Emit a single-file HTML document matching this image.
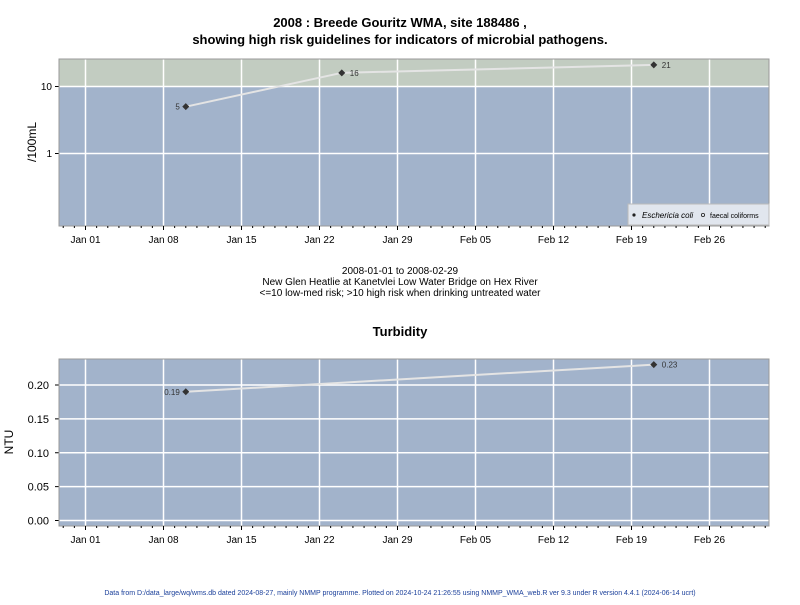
<!DOCTYPE html>
<html><head><meta charset="utf-8"><style>
body{margin:0;background:#fff;font-family:"Liberation Sans",sans-serif}
svg text{font-family:"Liberation Sans",sans-serif}
</style></head><body>
<svg id="s" width="800" height="600" xmlns="http://www.w3.org/2000/svg">
<text x="400" y="27" text-anchor="middle" font-size="13" font-weight="bold">2008 : Breede Gouritz WMA, site 188486 ,</text>
<text x="400" y="44" text-anchor="middle" font-size="13" font-weight="bold">showing high risk guidelines for indicators of microbial pathogens.</text>
<text x="400" y="274" text-anchor="middle" font-size="10">2008-01-01 to 2008-02-29</text>
<text x="400" y="285" text-anchor="middle" font-size="10">New Glen Heatlie at Kanetvlei Low Water Bridge on Hex River</text>
<text x="400" y="296" text-anchor="middle" font-size="10">&lt;=10 low-med risk; &gt;10 high risk when drinking untreated water</text>
<text x="400" y="336" text-anchor="middle" font-size="13" font-weight="bold">Turbidity</text>
<text x="36" y="142" text-anchor="middle" font-size="12" transform="rotate(-90 36 142)">/100mL</text>
<text x="13" y="442" text-anchor="middle" font-size="12" transform="rotate(-90 13 442)">NTU</text>
<text x="400" y="595" text-anchor="middle" font-size="7" fill="#1a3f9a">Data from D:/data_large/wq/wms.db dated 2024-08-27, mainly NMMP programme. Plotted on 2024-10-24 21:26:55 using NMMP_WMA_web.R ver 9.3 under R version 4.4.1 (2024-06-14 ucrt)</text>
<g id="g1"></g><g id="g2"></g>
</svg>
<script>
const tickLabels=["Jan 01","Jan 08","Jan 15","Jan 22","Jan 29","Feb 05","Feb 12","Feb 19","Feb 26"];
const tickDays=[0,7,14,21,28,35,42,49,56];
const ecoliDays=[9,23,51];
const ecoliValues=[5,16,21];
const ecoliLabels=["5","16","21"];
const ntuDays=[9,51];
const ntuValues=[0.19,0.23];
const ntuLabels=["0.19","0.23"];
const logTicks=[1,10];
const ntuTicks=[0,0.05,0.1,0.15,0.2];
const ntuTickLabels=["0.00","0.05","0.10","0.15","0.20"];
const guideline=10;

const NS="http://www.w3.org/2000/svg";
function mk(p,t,a){const e=document.createElementNS(NS,t);for(const k in a)e.setAttribute(k,a[k]);p.appendChild(e);return e;}
const X0=59,X1=769;
const xs=d=>85.5+d*(78/7);
function ys1(v){return 86.5-(Math.log10(v)-1)*67;}
function ys2(v){return 520.5-v*(135.5/0.2);}

function xAxis(g,yb){
  for(let d=-2;d<=61;d++){const x=xs(d);if(x<X0||x>X1)continue;
    const major=tickDays.includes(d);
    const l=mk(g,'line',{x1:x,x2:x,y1:yb,y2:yb+(major?4:2),stroke:'#000','stroke-width':1});
    
    }
  tickDays.forEach((d,i)=>{const t=mk(g,'text',{x:xs(d),y:yb+17,'text-anchor':'middle','font-size':10});t.textContent=tickLabels[i];
    
    });
}
function panel(g,yt,yb){
  const r=mk(g,'rect',{x:X0,y:yt,width:X1-X0,height:yb-yt,fill:'#a2b3cb'});
  
  
}
function vgrid(g,yt,yb){tickDays.forEach(d=>{const l=mk(g,'line',{x1:xs(d),x2:xs(d),y1:yt,y2:yb,stroke:'#fff','stroke-width':1.5});
  
  });}
function pts(g,days,vals,labs,ys,side){
  const p=mk(g,'polyline',{points:days.map((d,i)=>xs(d)+','+ys(vals[i])).join(' '),fill:'none',stroke:'#e4e4e4','stroke-width':2});
  
  
  days.forEach((d,i)=>{const x=xs(d),y=ys(vals[i]);
    const c=mk(g,'path',{d:`M${x-3.5},${y} L${x},${y-3.5} L${x+3.5},${y} L${x},${y+3.5}Z`,fill:'#333'});
    
    
    const left=i===0;
    const t=mk(g,'text',{x:left?x-6:x+8,y:y+3,'text-anchor':left?'end':'start','font-size':8,fill:'#333'});t.textContent=labs[i];
    
    });
}
// panel 1
const g1=document.getElementById('g1');
panel(g1,59,226);
const hr=mk(g1,'rect',{x:X0,y:59,width:X1-X0,height:ys1(guideline)-59,fill:'#c2ccc1'});


vgrid(g1,59,226);
logTicks.forEach(v=>{const y=ys1(v);
  const l=mk(g1,'line',{x1:X0,x2:X1,y1:y,y2:y,stroke:'#fff','stroke-width':1.5});
  
  
  const tk=mk(g1,'line',{x1:X0-4,x2:X0,y1:y,y2:y,stroke:'#000'});
  
  
  const t=mk(g1,'text',{x:X0-7,y:y+3.5,'text-anchor':'end','font-size':10});t.textContent=String(v);
  
  });
pts(g1,ecoliDays,ecoliValues,ecoliLabels,ys1);
const fr1=mk(g1,'rect',{x:X0,y:59,width:X1-X0,height:167,fill:'none',stroke:'#999'});


const lg=mk(g1,'g',{});


mk(lg,'rect',{x:628,y:204,width:141,height:21,fill:'#e1e6ee',stroke:'#bbb'});
mk(lg,'circle',{cx:634,cy:215,r:1.6,fill:'#222'});
const le1=mk(lg,'text',{x:642,y:218,'font-size':8,'font-style':'italic'});le1.textContent='Eschericia coli';


mk(lg,'circle',{cx:703,cy:215,r:1.6,fill:'none',stroke:'#222','stroke-width':0.8});
const le2=mk(lg,'text',{x:710,y:218,'font-size':7});le2.textContent='faecal coliforms';


xAxis(g1,226);
// panel 2
const g2=document.getElementById('g2');
panel(g2,359,526);
vgrid(g2,359,526);
ntuTicks.forEach((v,i)=>{const y=ys2(v);
  const l=mk(g2,'line',{x1:X0,x2:X1,y1:y,y2:y,stroke:'#fff','stroke-width':1.5});
  
  
  const tk=mk(g2,'line',{x1:X0-4,x2:X0,y1:y,y2:y,stroke:'#000'});
  
  
  const t=mk(g2,'text',{x:X0-10,y:y+4,'text-anchor':'end','font-size':11});t.textContent=ntuTickLabels[i];
  
  });
pts(g2,ntuDays,ntuValues,ntuLabels,ys2);
const fr2=mk(g2,'rect',{x:X0,y:359,width:X1-X0,height:167,fill:'none',stroke:'#999'});


xAxis(g2,526);
</script>
</body></html>
